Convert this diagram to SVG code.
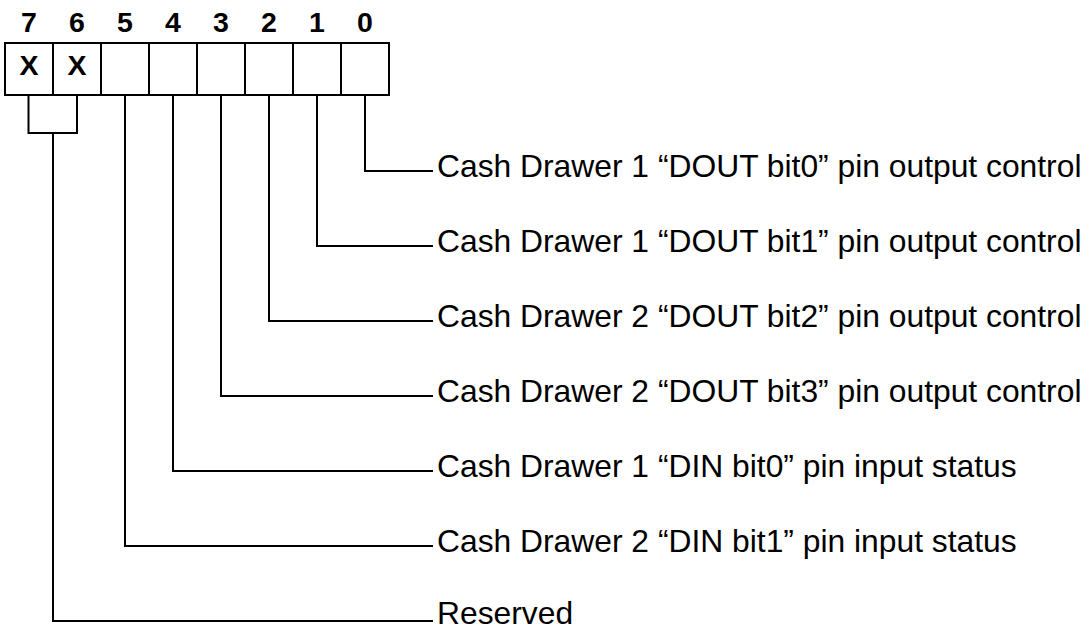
<svg xmlns="http://www.w3.org/2000/svg" width="1090" height="628" viewBox="0 0 1090 628">
<style>
.ln{fill:none;stroke:#000;stroke-width:2}
.hd{font-family:"Liberation Sans",Arial,sans-serif;font-weight:bold;font-size:28.5px;text-anchor:middle;fill:#000}
.lb{font-family:"Liberation Sans",Arial,sans-serif;font-size:31.8px;fill:#000}
</style>
<rect width="1090" height="628" fill="#fff"/>
<g id="header">
<text class="hd" x="29" y="32">7</text>
<text class="hd" x="77" y="32">6</text>
<text class="hd" x="125" y="32">5</text>
<text class="hd" x="173" y="32">4</text>
<text class="hd" x="221" y="32">3</text>
<text class="hd" x="269" y="32">2</text>
<text class="hd" x="317" y="32">1</text>
<text class="hd" x="365" y="32">0</text>
</g>
<g id="register">
<rect class="ln" x="5" y="43" width="384" height="52"/>
<path class="ln" d="M53 43V95M101 43V95M149 43V95M197 43V95M245 43V95M293 43V95M341 43V95"/>
<text class="hd" x="29" y="75">X</text>
<text class="hd" x="77" y="75">X</text>
</g>
<g id="connectors">
<path class="ln" d="M365 95V171H433"/>
<path class="ln" d="M317 95V246H433"/>
<path class="ln" d="M269 95V321H433"/>
<path class="ln" d="M221 95V396H433"/>
<path class="ln" d="M173 95V471H433"/>
<path class="ln" d="M125 95V546H433"/>
<path class="ln" d="M28.5 95V133H77V95M53 133V621H433"/>
</g>
<g id="label-bit0"><text class="lb" x="437" y="177">Cash Drawer 1 “DOUT bit0” pin output control</text></g>
<g id="label-bit1"><text class="lb" x="437" y="252">Cash Drawer 1 “DOUT bit1” pin output control</text></g>
<g id="label-bit2"><text class="lb" x="437" y="327">Cash Drawer 2 “DOUT bit2” pin output control</text></g>
<g id="label-bit3"><text class="lb" x="437" y="402">Cash Drawer 2 “DOUT bit3” pin output control</text></g>
<g id="label-bit4"><text class="lb" x="437" y="477">Cash Drawer 1 “DIN bit0” pin input status</text></g>
<g id="label-bit5"><text class="lb" x="437" y="552">Cash Drawer 2 “DIN bit1” pin input status</text></g>
<g id="label-reserved"><text class="lb" x="437" y="624">Reserved</text></g>
</svg>
